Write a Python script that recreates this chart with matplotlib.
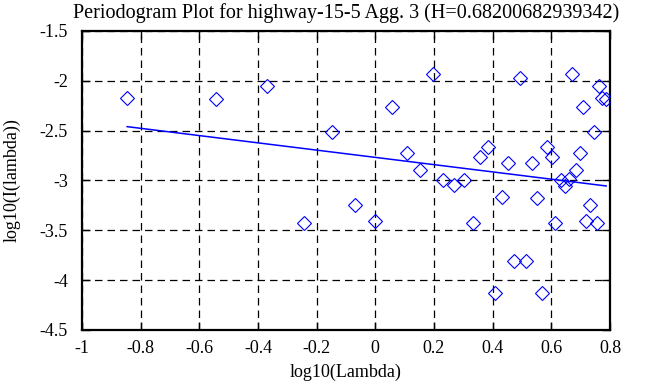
import numpy as np
import matplotlib
matplotlib.use('Agg')
import matplotlib.pyplot as plt

# Periodogram points (log10 frequency vs log10 intensity)
log_lambda = [-0.846, -0.543, -0.369, -0.243, -0.148, -0.068, 0.0,
              0.058, 0.107, 0.152, 0.196, 0.232, 0.268, 0.302, 0.332,
              0.357, 0.383, 0.409, 0.433, 0.454, 0.474, 0.494, 0.514,
              0.533, 0.552, 0.568, 0.584, 0.601, 0.614, 0.633, 0.647,
              0.661, 0.672, 0.683, 0.697, 0.709, 0.718, 0.732, 0.745,
              0.755, 0.764, 0.774, 0.785]
log_intensity = [-2.175, -2.18, -2.05, -3.43, -2.51, -3.245, -3.41,
                 -2.265, -2.72, -2.894, -1.934, -3.0, -3.05, -3.0, -3.43,
                 -2.76, -2.66, -4.128, -3.17, -2.82, -3.81, -1.968, -3.81,
                 -2.82, -3.18, -4.128, -2.66, -2.76, -3.43, -2.995, -3.055,
                 -2.99, -1.934, -2.894, -2.72, -2.265, -3.41, -3.245, -2.51,
                 -3.43, -2.05, -2.175, -2.18]

# least-squares fit line endpoints
fit_x = [-0.846, 0.787]
fit_y = [-2.46, -3.055]

hurst = 0.68200682939342

plt.rcParams['font.family'] = ['Liberation Serif', 'DejaVu Serif']
plt.rcParams['font.size'] = 13

fig = plt.figure(figsize=(6.58, 3.87), dpi=100)
ax = fig.add_axes([0.1246, 0.1473, 0.8024, 0.7727])

ax.plot(log_lambda, log_intensity, 'D', mfc='none', mec='blue',
        ms=7, mew=0.8, zorder=3)
ax.plot(fit_x, fit_y, '-', color='blue', lw=1.1, zorder=3)

ax.set_xlim(-1, 0.8)
ax.set_ylim(-4.5, -1.5)
ax.set_xticks(np.arange(-1, 0.81, 0.2))
ax.set_yticks(np.arange(-4.5, -1.49, 0.5))
ax.set_xticklabels(['-1', '-0.8', '-0.6', '-0.4', '-0.2', '0',
                    '0.2', '0.4', '0.6', '0.8'])
ax.set_yticklabels(['-4.5', '-4', '-3.5', '-3', '-2.5', '-2', '-1.5'])
ax.grid(True, color='black', linestyle=(0, (6, 4)), linewidth=0.9)
ax.tick_params(direction='in', top=True, right=True, length=6,
               width=1, labelsize=13, pad=7)
ax.tick_params(axis='y', pad=10)
for sp in ax.spines.values():
    sp.set_linewidth(1.6)

ax.set_xlabel('log10(Lambda)', fontsize=13, labelpad=5)
ax.set_ylabel('log10(I(lambda))', fontsize=13, labelpad=14)
ax.set_title('Periodogram Plot for highway-15-5 Agg. 3 (H=%s)' % hurst,
             fontsize=14.5, pad=9)

fig.savefig('out.png', dpi=100)
